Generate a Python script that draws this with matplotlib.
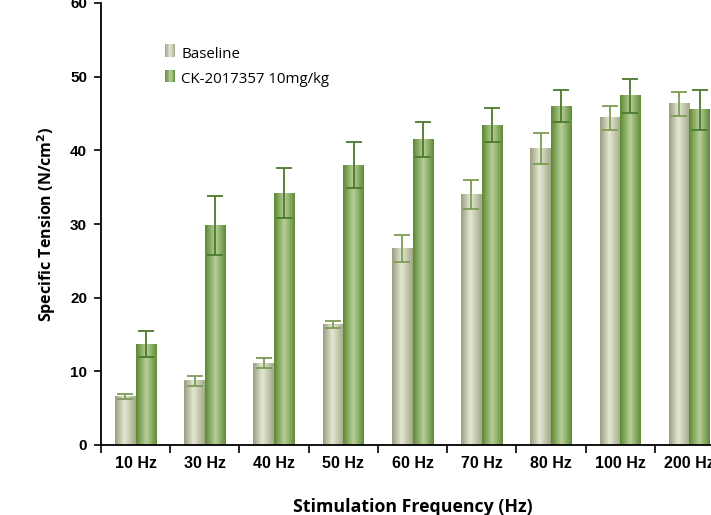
import numpy as np
import matplotlib
matplotlib.use("Agg")
import matplotlib.pyplot as plt
from matplotlib.legend_handler import HandlerBase
from matplotlib.patches import Rectangle
from matplotlib.colors import LinearSegmentedColormap

# specific tension per stimulation frequency
freqs = ["10 Hz", "30 Hz", "40 Hz", "50 Hz", "60 Hz", "70 Hz", "80 Hz", "100 Hz", "200 Hz"]
baseline = [6.6, 8.7, 11.1, 16.4, 26.7, 34.0, 40.2, 44.4, 46.3]
baseline_err = [0.3, 0.7, 0.7, 0.5, 1.8, 2.0, 2.1, 1.6, 1.6]
treated = [13.7, 29.8, 34.2, 38.0, 41.5, 43.4, 46.0, 47.4, 45.5]
treated_err = [1.8, 4.0, 3.4, 3.1, 2.4, 2.3, 2.15, 2.3, 2.75]
series_names = ["Baseline", "CK-2017357 10mg/kg"]

# shaded "cylinder" look: dark edges, light band left of centre
cmap_base = LinearSegmentedColormap.from_list(
    "base", [(0, "#9a9e7e"), (0.45, "#e4e8d4"), (1, "#a4a888")])
cmap_trt = LinearSegmentedColormap.from_list(
    "trt", [(0, "#5a8932"), (0.5, "#b9cf99"), (1, "#5e8c36")])

fig = plt.figure(figsize=(7.11, 5.15), dpi=100)
ax = fig.add_axes([101 / 711, 70 / 515, 623 / 711, 442 / 515])

x = np.arange(len(freqs))
w = 0.297
b1 = ax.bar(x - w / 2, baseline, w, color="none", zorder=2)
b2 = ax.bar(x + w / 2, treated, w, color="none", zorder=2)

grad = np.linspace(0, 1, 64).reshape(1, -1)
for bars, cm in ((b1, cmap_base), (b2, cmap_trt)):
    for p in bars:
        x0, y0 = p.get_x(), p.get_y()
        ax.imshow(grad, cmap=cm, aspect="auto", zorder=2,
                  extent=(x0, x0 + p.get_width(), y0, y0 + p.get_height()),
                  interpolation="bicubic")

ax.errorbar(x - w / 2, baseline, yerr=baseline_err, fmt="none",
            ecolor="#7c9c56", elinewidth=1.3, capsize=6, capthick=1.3, zorder=3)
ax.errorbar(x + w / 2, treated, yerr=treated_err, fmt="none",
            ecolor="#4b7a2c", elinewidth=1.3, capsize=6, capthick=1.3, zorder=3)

ax.set_xlim(-0.5, len(freqs) - 0.5)
ax.set_ylim(0, 60)
ax.set_aspect("auto")

ax.spines["top"].set_visible(False)
ax.spines["right"].set_visible(False)
ax.spines["left"].set_linewidth(1.3)
ax.spines["bottom"].set_linewidth(1.3)
ax.spines["left"].set_bounds(0, 60)

ax.set_yticks(range(0, 61, 10))
ax.tick_params(axis="y", direction="out", length=5, width=1.2, pad=5)
for lab in ax.get_yticklabels():
    lab.set_fontfamily("Liberation Sans")
    lab.set_fontweight("bold")
    lab.set_fontsize(11)

# boundary ticks as majors, category names on minors
ax.set_xticks(np.arange(-0.5, len(freqs), 1))
ax.set_xticklabels([])
ax.set_xticks(x, minor=True)
ax.set_xticklabels(freqs, minor=True, fontfamily="Liberation Sans",
                   fontweight="bold", fontsize=11.5)
ax.tick_params(axis="x", which="major", direction="out", length=6, width=1.2)
ax.tick_params(axis="x", which="minor", length=0, pad=8)

ax.set_ylabel("Specific Tension (N/cm$^\\mathbf{2}$)", fontfamily="Open Sans",
              fontweight="bold", fontsize=11.5, labelpad=9)
ax.set_xlabel("Stimulation Frequency (Hz)", fontfamily="Open Sans",
              fontweight="bold", fontsize=12.8, labelpad=19)


class GradHandler(HandlerBase):
    def __init__(self, cm):
        super().__init__()
        self.cm = cm

    def create_artists(self, legend, orig, xd, yd, width, height, fontsize, trans):
        n = 8
        out = []
        for i in range(n):
            r = Rectangle((xd + i * width / n, yd), width / n, height,
                          facecolor=self.cm((i + 0.5) / n), edgecolor="none",
                          transform=trans)
            out.append(r)
        return out


h1 = Rectangle((0, 0), 1, 1)
h2 = Rectangle((0, 0), 1, 1)
ax.legend([h1, h2], series_names, loc="upper left",
          bbox_to_anchor=(0.081, 0.932), frameon=False,
          handler_map={h1: GradHandler(cmap_base), h2: GradHandler(cmap_trt)},
          handlelength=0.7, handleheight=0.9, handletextpad=0.4,
          labelspacing=0.65, prop={"family": "Open Sans", "size": 10.8})

fig.savefig("out.png", dpi=100)
